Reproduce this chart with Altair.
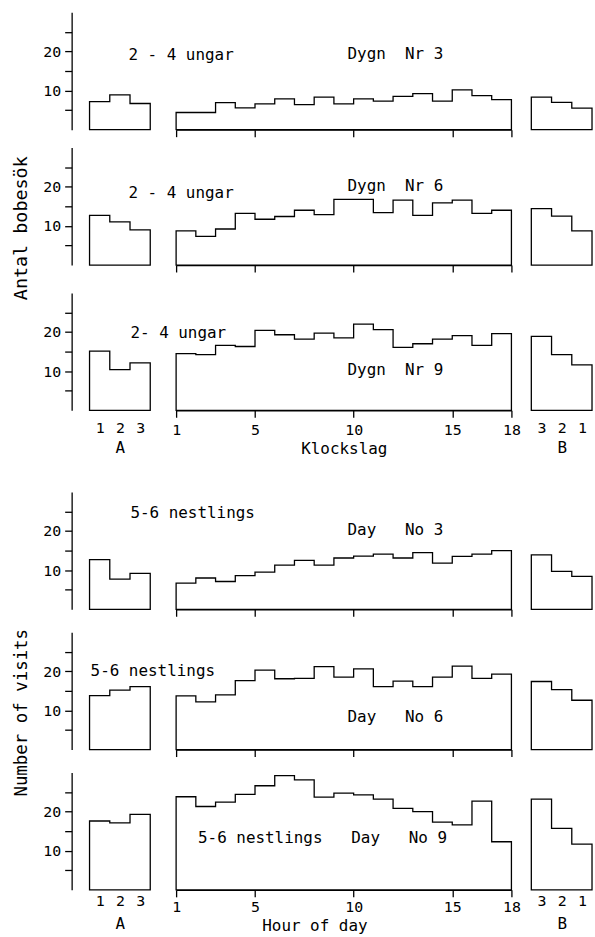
import altair as alt
import pandas as pd

FONT = "DejaVu Sans Mono"

# ---------------- data ----------------
A_labels = ["1", "2", "3"]
B_labels = ["3", "2", "1"]
main_ticks = [1, 5, 10, 15, 18]

# 2-4 ungar
ungar_d3_A = [7.2, 8.9, 6.7]
ungar_d3_main = [4.4, 4.4, 6.9, 5.6, 6.6, 7.9, 6.4, 8.3, 6.6, 7.9, 7.3, 8.5, 9.2, 7.3, 10.2, 8.7, 7.7]
ungar_d3_B = [8.3, 7.0, 5.5]

ungar_d6_A = [12.7, 11.0, 9.0]
ungar_d6_main = [8.7, 7.3, 9.2, 13.2, 11.7, 12.4, 14.0, 12.9, 16.8, 16.8, 13.4, 16.6, 12.7, 15.9, 16.6, 13.2, 14.0]
ungar_d6_B = [14.4, 12.5, 8.7]

ungar_d9_A = [15.1, 10.4, 12.1]
ungar_d9_main = [14.5, 14.2, 16.6, 16.3, 20.4, 19.3, 18.2, 19.7, 18.5, 22.0, 20.6, 16.1, 17.0, 18.2, 19.1, 16.6, 19.6]
ungar_d9_B = [18.9, 14.2, 11.6]

# 5-6 nestlings
nest_d3_A = [12.7, 7.7, 9.2]
nest_d3_main = [6.7, 8.0, 7.1, 8.6, 9.5, 11.3, 12.5, 11.3, 13.1, 13.6, 14.1, 13.1, 14.5, 11.8, 13.5, 14.1, 15.0]
nest_d3_B = [13.9, 9.7, 8.4]

nest_d6_A = [13.8, 15.2, 16.1]
nest_d6_main = [13.7, 12.2, 14.0, 17.6, 20.3, 18.1, 18.2, 21.2, 18.5, 20.6, 16.1, 17.5, 16.1, 18.5, 21.3, 18.2, 19.3]
nest_d6_B = [17.4, 15.3, 12.6]

nest_d9_A = [17.6, 17.1, 19.3]
nest_d9_main = [23.8, 21.3, 22.4, 24.4, 26.6, 29.2, 28.1, 23.7, 24.7, 24.3, 23.2, 20.8, 20.0, 17.3, 16.6, 22.7, 12.3]
nest_d9_B = [23.2, 15.7, 11.7]

NB = "\u00a0"
# in-panel labels: (text, x in panel units, y in visits)
txt = {
    1: ([("2 - 4 ungar", 2.42, 19.2)], [("Dygn" + NB * 2 + "Nr" + NB + "3", 9.69, 19.4)]),
    2: ([("2 - 4 ungar", 2.42, 18.3)], [("Dygn" + NB * 2 + "Nr" + NB + "6", 9.69, 20.2)]),
    3: ([("2- 4 ungar", 2.52, 19.8)], [("Dygn" + NB * 2 + "Nr" + NB + "9", 9.69, 10.4)]),
    4: ([("5-6 nestlings", 2.52, 24.5)], [("Day" + NB * 3 + "No" + NB + "3", 9.69, 20.3)]),
    5: ([("5-6 nestlings", 0.55, 20.1)], [("Day" + NB * 3 + "No" + NB + "6", 9.69, 8.4)]),
    6: ([], [("5-6 nestlings" + NB * 3 + "Day" + NB * 3 + "No" + NB + "9", 2.11, 13.2)]),
}

H = 118
LW = 1.3


def step_df(values, start):
    xs = [start + i for i in range(len(values) + 1)]
    ys = list(values) + [values[-1]]
    return pd.DataFrame({"x": xs, "v": ys})


def panel(values, start, domain, width, xaxis, yaxis, texts):
    layers = [
        alt.Chart(step_df(values, start)).mark_area(
            interpolate="step-after", fill="white", stroke="black", strokeWidth=LW
        )
    ]
    for t, tx, ty in texts:
        layers.append(
            alt.Chart(pd.DataFrame({"x": [tx], "v": [ty], "t": [t]})).mark_text(
                align="left", baseline="middle", font=FONT, fontSize=16, color="black"
            ).encode(text="t:N")
        )
    return alt.layer(*layers).encode(
        x=alt.X("x:Q", scale=alt.Scale(domain=domain, nice=False, zero=False), axis=xaxis),
        y=alt.Y("v:Q", scale=alt.Scale(domain=[0, 30], nice=False), axis=yaxis),
    ).properties(width=width, height=H)


yaxis_A = alt.Axis(
    values=[5, 10, 15, 20, 25],
    labelExpr="datum.value % 10 == 0 ? datum.label : ''",
    tickSize=7, offset=18, grid=False, title=None,
    labelPadding=4, domainWidth=LW, tickWidth=LW,
)


def row(n, A_vals, M_vals, B_vals, main_title=None, a_pad=12, ab_title_pad=2,
        main_label_pad=5, main_title_pad=2, main_title_x=None):
    show = main_title is not None
    if show:
        ax_main = alt.Axis(values=main_ticks, tickSize=7, grid=False, format="d",
                           labelFlush=False, labelOverlap=False, labelPadding=main_label_pad,
                           title=main_title, titlePadding=main_title_pad,
                           domainWidth=LW, tickWidth=LW,
                           **({"titleX": main_title_x} if main_title_x is not None else {}))
        ax_A = alt.Axis(values=[1, 2, 3], domain=False, ticks=False, grid=False,
                        labelExpr=f"{A_labels}[datum.value - 1]", labelPadding=a_pad,
                        title="A", titlePadding=ab_title_pad)
        ax_B = alt.Axis(values=[1, 2, 3], domain=False, ticks=False, grid=False,
                        labelExpr=f"{B_labels}[datum.value - 1]", labelPadding=a_pad,
                        title="B", titlePadding=ab_title_pad)
    else:
        ax_main = alt.Axis(values=main_ticks, tickSize=7, grid=False, labels=False,
                           title=None, domainWidth=LW, tickWidth=LW)
        ax_A = None
        ax_B = None
    tA, tM = txt[n]
    pA = panel(A_vals, 0.5, [0.5, 3.5], 61, ax_A, yaxis_A, tA)
    pM = panel(M_vals, 1, [1, 18], 337, ax_main, None, tM)
    pB = panel(B_vals, 0.5, [0.5, 3.5], 61, ax_B, None, [])
    inner = alt.hconcat(pM, pB, spacing=20, bounds="flush")
    return alt.hconcat(pA, inner, spacing=26, bounds="flush")


r1 = row(1, ungar_d3_A, ungar_d3_main, ungar_d3_B)
r2 = row(2, ungar_d6_A, ungar_d6_main, ungar_d6_B)
r3 = row(3, ungar_d9_A, ungar_d9_main, ungar_d9_B, main_title="Klockslag",
         a_pad=10, ab_title_pad=4, main_label_pad=5, main_title_pad=3)
r4 = row(4, nest_d3_A, nest_d3_main, nest_d3_B)
r5 = row(5, nest_d6_A, nest_d6_main, nest_d6_B)
r6 = row(6, nest_d9_A, nest_d9_main, nest_d9_B, main_title="Hour of day",
         a_pad=4, ab_title_pad=7, main_label_pad=3, main_title_pad=3, main_title_x=139)


def group_title(text, size, dx=0):
    return alt.TitleParams(text, orient="left", anchor="middle", font=FONT, fontSize=size,
                           fontWeight="normal", color="black", offset=12, dx=dx)


g1 = alt.vconcat(r1, alt.vconcat(r2, r3, spacing=20), spacing=10).properties(
    title=group_title("Antal bobesök", 18.5, dx=6))
g2 = alt.vconcat(r4, alt.vconcat(r5, r6, spacing=15), spacing=15).properties(
    title=group_title("Number of visits", 17.5))

chart = alt.vconcat(g1, g2, spacing=36).properties(
    padding={"left": 12, "top": 10, "right": 0, "bottom": 0},
    background="white",
).configure_view(stroke=None).configure_axis(
    labelFont=FONT, labelFontSize=15, labelColor="black",
    titleFont=FONT, titleFontSize=16, titleFontWeight="normal", titleColor="black",
    domainColor="black", tickColor="black",
)

chart.save("out.html", embed_options={"renderer": "svg", "actions": False})
